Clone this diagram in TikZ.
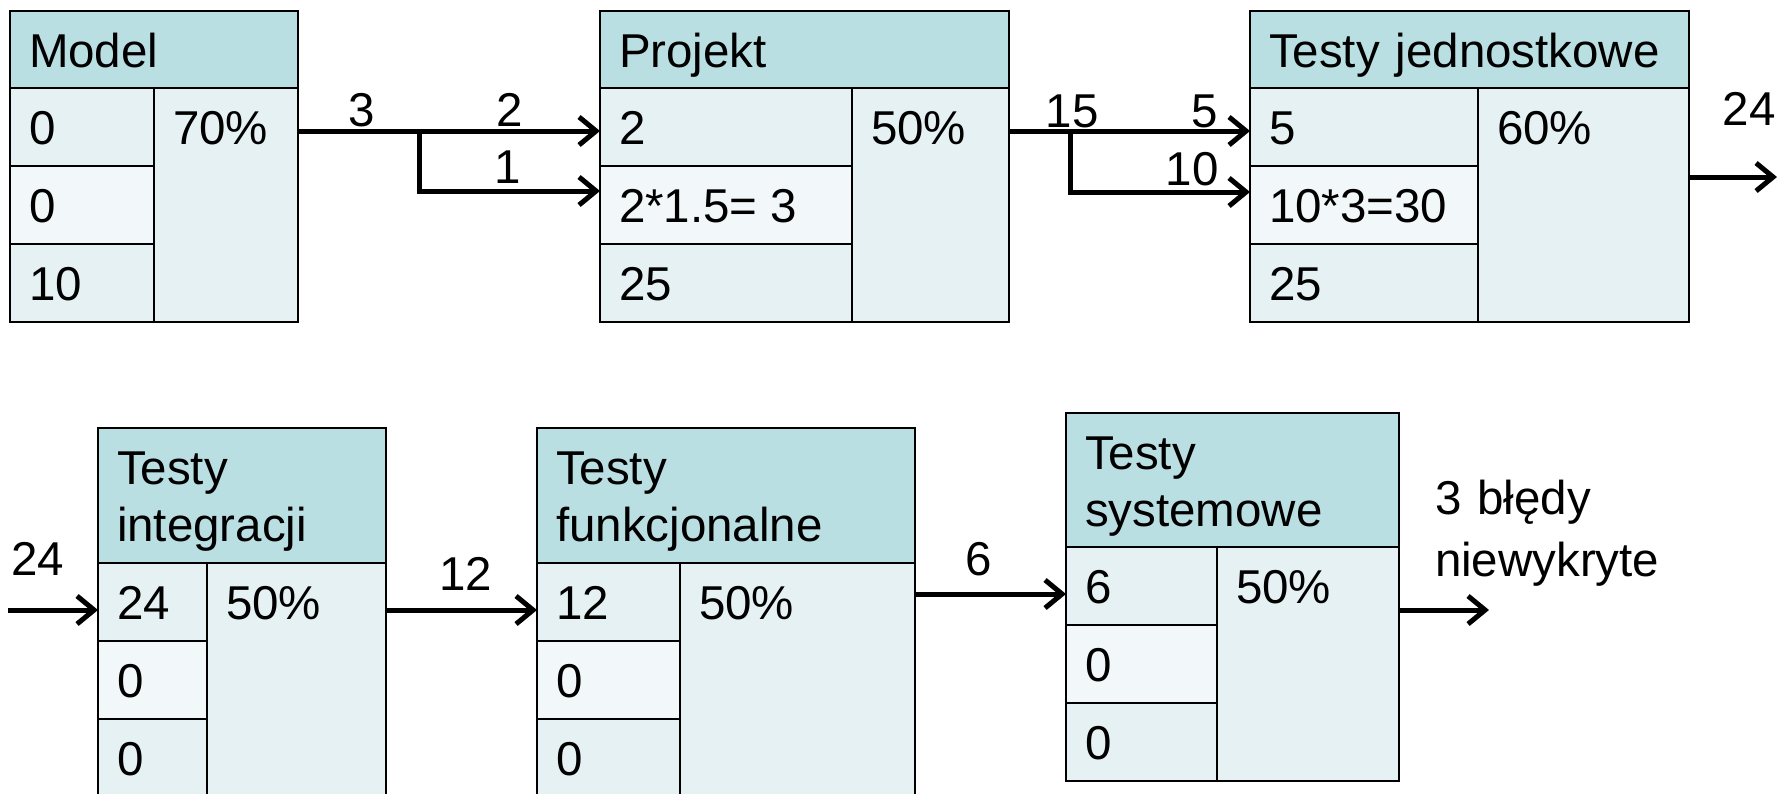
\documentclass[tikz,border=0pt]{standalone}
\usepackage{fontspec}
\setmainfont{Liberation Sans}
\usetikzlibrary{arrows.meta,calc}

\definecolor{headfill}{HTML}{BADFE3}
\definecolor{rowfill}{HTML}{E5F1F3}
\definecolor{rowlight}{HTML}{F2F7F9}

\tikzset{
  cellbox/.style={rectangle, draw=black, line width=2.8pt, inner sep=0pt, outer sep=0pt},
  txt/.style={inner sep=0pt, outer sep=0pt, font=\fontsize{47.5}{57}\selectfont},
  lbl/.style={txt, anchor=base},
  conn/.style={line width=5pt, -{Straight Barb[length=17pt,width=28pt]}},
}

% Phase box: #1 name, #2 left, #3 top, #4 width, #5 left column width,
% #6 header height, #7 header text, #8 the three row values, #9 share
\newcommand\errbox[9]{%
  \node[cellbox, fill=headfill, minimum width=#4pt, minimum height=#6pt,
        anchor=north west] (#1-h) at (#2,#3) {};
  \pgfmathsetmacro\hbase{#6>100 ? #6/2-11 : #6/2+17.5}
  \pgfmathsetmacro\htw{#4-40}
  \node[txt, anchor=base west, text width=\htw pt, align=left] (#1-ht)
        at ($(#1-h.north west)+(19,\hbase)$) {#7};
  \foreach \t [count=\i] in {#8} {
    \pgfmathsetmacro\rowtop{#3+#6+(\i-1)*78}
    \ifodd\i \def\rf{rowfill}\else\def\rf{rowlight}\fi
    \node[cellbox, fill=\rf, minimum width=#5pt, minimum height=78pt,
          anchor=north west] (#1-\i) at (#2,\rowtop) {};
    \node[txt, anchor=base west] (#1-t\i) at ($(#1-\i.west)+(19,17.5)$) {\t};
  }
  \pgfmathsetmacro\pw{#4-#5}
  \node[cellbox, fill=rowfill, minimum width=\pw pt, minimum height=234pt,
        anchor=north west] (#1-p) at (#2+#5,#3+#6) {};
  \node[txt, anchor=base west] (#1-pt) at ($(#1-p.west |- #1-1.west)+(19,17.5)$) {#9};
}

\begin{document}
\begin{tikzpicture}[x=1pt,y=-1pt]
\useasboundingbox (0,0) rectangle (1777,793);

% upper row of phases
\errbox{mdl}{10}{11}{288}{144}{77}{Model}{0,0,10}{70\%}
\errbox{prj}{600}{11}{409}{252}{77}{Projekt}{2,2*1.5= 3,25}{50\%}
\errbox{tj}{1250}{11}{439}{228}{77}{Testy jednostkowe}{5,10*3=30,25}{60\%}

% lower row of phases
\errbox{ti}{98}{428}{288}{109}{135}{Testy\\integracji}{24,0,0}{50\%}
\errbox{tf}{537}{428}{378}{143}{135}{Testy\\funkcjonalne}{12,0,0}{50\%}
\errbox{ts}{1066}{413}{333}{151}{134}{Testy\\systemowe}{6,0,0}{50\%}

% Model -> Projekt, split into two streams
\coordinate (a1) at ([yshift=-4pt]prj-1.west);
\coordinate (a2) at ([yshift=14pt]prj-2.west);
\coordinate (j1) at (419,131);
\draw[conn] (mdl-p.east |- a1) -- (a1);
\draw[conn] (j1) |- (a2);
\node[lbl] (la3) at (362,126) {3};
\node[lbl] (la2) at (510,126) {2};
\node[lbl] (la1) at (508,183) {1};

% Projekt -> Testy jednostkowe, split into two streams
\coordinate (b1) at ([yshift=-4pt]tj-1.west);
\coordinate (b2) at ([yshift=13pt]tj-2.west);
\coordinate (j2) at (1070,131);
\draw[conn] (prj-p.east |- b1) -- (b1);
\draw[conn] (j2) |- (b2);
\node[lbl] (lb15) at (1072,127) {15};
\node[lbl] (lb5) at (1205,127) {5};
\node[lbl] (lb10) at (1192,185) {10};

% leaving Testy jednostkowe
\coordinate (c1) at (1777,177);
\draw[conn] (tj-p.east |- c1) -- (c1);
\node[lbl] (lc) at (1749,125) {24};

% entering Testy integracji
\coordinate (d0) at (8,610);
\coordinate (d1) at ([yshift=-8pt]ti-1.west);
\draw[conn] (d0) -- (d1);
\node[lbl] (ld) at (38,575) {24};

% Testy integracji -> Testy funkcjonalne
\coordinate (e1) at ([yshift=-8pt]tf-1.west);
\draw[conn] (ti-p.east |- e1) -- (e1);
\node[lbl] (le) at (466,590) {12};

% Testy funkcjonalne -> Testy systemowe
\coordinate (f1) at ([yshift=-8pt]ts-1.west);
\draw[conn] (tf-p.east |- f1) -- (f1);
\node[lbl] (lf) at (979,575) {6};

% leaving Testy systemowe
\coordinate (g1) at (1489,610);
\draw[conn] (ts-p.east |- g1) -- (g1);
\node[txt, anchor=base west, text width=330pt, align=left,
      font=\fontsize{47.5}{62}\selectfont] (lg) at (1435,514) {3 błędy\\niewykryte};
\end{tikzpicture}
\end{document}
